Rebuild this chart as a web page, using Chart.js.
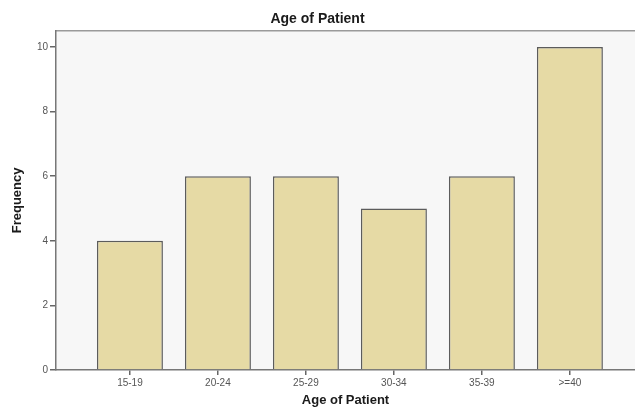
<!DOCTYPE html>
<html>
<head>
<meta charset="utf-8">
<script src="https://cdn.jsdelivr.net/npm/chart.js@4.4.1/dist/chart.umd.min.js"></script>
<style>
  html, body { margin: 0; padding: 0; background: #ffffff; }
  #wrap { width: 635px; height: 408px; position: relative; }
</style>
</head>
<body>
<div id="wrap"><canvas id="c" width="635" height="408"></canvas></div>
<script>
const categories = ['15-19', '20-24', '25-29', '30-34', '35-39', '>=40'];
const frequencies = [4, 6, 6, 5, 6, 10];
const yTickValues = [0, 2, 4, 6, 8, 10];
const chartTitle = 'Age of Patient';
const xTitle = 'Age of Patient';
const yTitle = 'Frequency';

const FONT = "'Liberation Sans', Arial, sans-serif";

const plotBg = {
  id: 'plotBg',
  beforeDraw(chart) {
    const { ctx, chartArea: a } = chart;
    ctx.save();
    ctx.fillStyle = '#f7f7f7';
    ctx.fillRect(a.left, a.top, a.right - a.left, a.bottom - a.top);
    ctx.strokeStyle = '#9a9a9a';
    ctx.lineWidth = 1.5;
    ctx.beginPath();
    ctx.moveTo(a.left, a.top);
    ctx.lineTo(a.right, a.top);
    ctx.stroke();
    ctx.restore();
  }
};

new Chart(document.getElementById('c'), {
  type: 'bar',
  data: {
    datasets: [{
      data: categories.map((c, i) => ({ x: i, y: frequencies[i] })),
      backgroundColor: '#e6daa5',
      borderColor: '#5c5c5c',
      borderWidth: 1.5,
      categoryPercentage: 1,
      barPercentage: 0.75
    }]
  },
  options: {
    responsive: false,
    animation: false,
    devicePixelRatio: 1,
    layout: { padding: { left: 0, right: 0, top: 0, bottom: 0 } },
    plugins: {
      legend: { display: false },
      tooltip: { enabled: false },
      title: {
        display: true,
        text: chartTitle,
        color: '#1a1a1a',
        font: { family: FONT, size: 14, weight: 'bold', lineHeight: 1.2 },
        padding: { top: 11, bottom: 3 }
      }
    },
    scales: {
      x: {
        type: 'linear',
        offset: false,
        min: -0.84,
        max: 5.74,
        afterBuildTicks(scale) { scale.ticks = categories.map((_, i) => ({ value: i })); },
        afterFit(scale) { scale.height = 38; },
        ticks: {
          callback: (v) => categories[v],
          color: '#555555',
          font: { family: FONT, size: 10 },
          padding: 2,
          maxRotation: 0,
          autoSkip: false
        },
        grid: { display: true, offset: false, drawOnChartArea: false, tickLength: 5, color: '#666666', lineWidth: 1.5 },
        border: { display: true, color: '#777777', width: 1.5 },
        title: {
          display: true,
          text: xTitle,
          color: '#1a1a1a',
          font: { family: FONT, size: 13, weight: 'bold', lineHeight: 1.2 },
          padding: { top: 0, bottom: 0 }
        }
      },
      y: {
        min: 0,
        max: 10.5,
        afterBuildTicks(scale) { scale.ticks = yTickValues.map(v => ({ value: v })); },
        afterFit(scale) { scale.width = 56; },
        ticks: {
          color: '#555555',
          font: { family: FONT, size: 10 },
          padding: 2,
          includeBounds: false
        },
        grid: { display: true, drawOnChartArea: false, tickLength: 6, color: '#666666', lineWidth: 1.5 },
        border: { display: true, color: '#777777', width: 1.5 },
        title: {
          display: true,
          text: yTitle,
          color: '#1a1a1a',
          font: { family: FONT, size: 13, weight: 'bold', lineHeight: 1.2 },
          padding: { top: 10, bottom: 0 }
        }
      }
    }
  },
  plugins: [plotBg]
});
</script>
</body>
</html>
